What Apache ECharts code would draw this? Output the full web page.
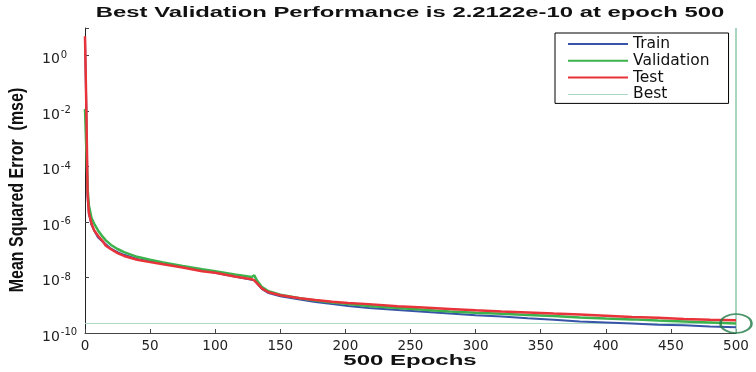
<!DOCTYPE html>
<html>
<head>
<meta charset="utf-8">
<script src="https://cdn.jsdelivr.net/npm/echarts@6/dist/echarts.min.js"></script>
<style>html,body{margin:0;padding:0;background:#fff}#c{width:756px;height:372px}</style>
</head>
<body>
<div id="c"></div>
<script>
const epochs = [0,1,2,3,5,7,10,13,16,20,25,30,40,50,60,75,90,100,115,128,130,132,136,141,150,165,177,190,202,218,240,260,280,300,320,340,360,380,400,420,440,460,480,500];
const trainMSE = [4.0,1.4e-2,7.9e-6,2.0e-6,7.9e-7,5.0e-7,2.8e-7,2.1e-7,1.6e-7,1.1e-7,8.3e-8,6.6e-8,4.7e-8,3.8e-8,3.2e-8,2.4e-8,1.8e-8,1.5e-8,1.1e-8,8.3e-9,7.9e-9,6.3e-9,3.8e-9,2.75e-9,2.1e-9,1.6e-9,1.3e-9,1.1e-9,9.5e-10,7.9e-10,6.8e-10,5.8e-10,5.0e-10,4.4e-10,3.9e-10,3.4e-10,3.0e-10,2.6e-10,2.4e-10,2.2e-10,2.0e-10,1.9e-10,1.7e-10,1.6e-10];
const validationMSE = [1.2e-2,1.1e-2,1.6e-5,4.0e-6,1.4e-6,8.9e-7,5.0e-7,3.2e-7,2.2e-7,1.5e-7,1.07e-7,8.3e-8,5.6e-8,4.4e-8,3.5e-8,2.6e-8,2.0e-8,1.7e-8,1.3e-8,1.05e-8,1.2e-8,7.9e-9,4.5e-9,3.2e-9,2.4e-9,1.8e-9,1.5e-9,1.26e-9,1.1e-9,9.5e-10,7.9e-10,6.9e-10,6.0e-10,5.4e-10,4.9e-10,4.5e-10,4.1e-10,3.6e-10,3.3e-10,3.1e-10,2.8e-10,2.6e-10,2.4e-10,2.2122e-10];
const testMSE = [5.0,1.6e-2,1.0e-5,2.1e-6,8.9e-7,5.1e-7,3.2e-7,2.2e-7,1.4e-7,1.05e-7,7.6e-8,6.0e-8,4.4e-8,3.6e-8,3.0e-8,2.3e-8,1.7e-8,1.5e-8,1.1e-8,8.7e-9,7.9e-9,6.3e-9,4.0e-9,2.95e-9,2.3e-9,1.8e-9,1.55e-9,1.35e-9,1.2e-9,1.1e-9,9.3e-10,8.3e-10,7.4e-10,6.6e-10,6.0e-10,5.5e-10,5.0e-10,4.6e-10,4.2e-10,3.8e-10,3.55e-10,3.2e-10,3.0e-10,2.9e-10];
const bestValue = 2.2122e-10;
const bestEpoch = 500;
const xTicks = [0,50,100,150,200,250,300,350,400,450,500];
const yTickExponents = [0,-2,-4,-6,-8,-10];
const seriesNames = ['Train','Validation','Test','Best'];
const titleText = 'Best Validation Performance is 2.2122e-10 at epoch 500';
const xName = '500 Epochs';
const yName = 'Mean Squared Error  (mse)';

const pairs = arr => epochs.map((e,i)=>[e, arr[i]]);
const chart = echarts.init(document.getElementById('c'), null, {renderer:'canvas'});
const C = {train:'#3854a8', val:'#3bb24c', test:'#e8333a', best:'#a9d9c2'};
const thick = 'path://M0,0H60V2H0Z';
const thin = 'path://M0,0H60V1H0Z';
const icons = [thick, thick, thick, thin];
chart.setOption({
  animation:false,
  backgroundColor:'#ffffff',
  graphic:[
    {type:'text',x:410,y:12.5,scaleX:1.59,style:{text:titleText,textAlign:'center',textVerticalAlign:'middle',
      fontFamily:'Liberation Sans',fontWeight:'bold',fontSize:15,fill:'#111'}},
    {type:'text',x:410,y:361,scaleX:1.6,style:{text:xName,textAlign:'center',textVerticalAlign:'middle',
      fontFamily:'Liberation Sans',fontWeight:'bold',fontSize:15,fill:'#111'}},
    {type:'text',x:17,y:190,rotation:Math.PI/2,scaleY:1.3,style:{text:yName,textAlign:'center',textVerticalAlign:'middle',
      fontFamily:'Liberation Sans',fontWeight:'bold',fontSize:16,fill:'#111'}}
  ],
  grid:{left:85,right:20,top:28,bottom:39,containLabel:false},
  legend:{orient:'vertical',left:555,top:33,itemWidth:60,itemHeight:14,itemGap:0.8,
    padding:[3,19,1,13],borderColor:'#000',borderWidth:1,backgroundColor:'#fff',
    textStyle:{fontFamily:'DejaVu Sans',fontSize:15.5,lineHeight:15,color:'#111'},
    data:seriesNames.map((n,i)=>({name:n,icon:icons[i]}))},
  xAxis:{type:'value',min:0,max:500,interval:50,
    axisLine:{lineStyle:{color:'#444',width:1}},
    axisTick:{inside:true,length:4,lineStyle:{color:'#444'}},
    axisLabel:{margin:6,fontFamily:'DejaVu Sans',fontSize:13.5,color:'#222',
      formatter:v=> xTicks.indexOf(v)>=0 ? String(v) : ''},
    splitLine:{show:false}},
  yAxis:{type:'log',logBase:10,min:1e-10,max:10,interval:2,
    axisLine:{show:true,lineStyle:{color:'#222',width:1}},
    axisTick:{inside:true,length:4,lineStyle:{color:'#444'}},
    axisLabel:{margin:43,align:'left',padding:[8,0,0,0],fontFamily:'DejaVu Sans',fontSize:14,color:'#222',
      formatter:v=>{const e=Math.round(Math.log10(v)); return yTickExponents.indexOf(e)>=0 ? '10{s|'+e+'}' : '';},
      rich:{s:{fontSize:10,verticalAlign:'bottom',padding:[0,0,9,1],fontFamily:'DejaVu Sans',color:'#222'}}},
    splitLine:{show:false}},
  series:[
    {name:'Train',type:'line',data:pairs(trainMSE),showSymbol:false,symbol:'none',
      lineStyle:{color:C.train,width:2},itemStyle:{color:C.train},z:2},
    {name:'Validation',type:'line',data:pairs(validationMSE),showSymbol:false,symbol:'none',
      lineStyle:{color:C.val,width:2.5},itemStyle:{color:C.val},z:3},
    {name:'Test',type:'line',data:pairs(testMSE),showSymbol:false,symbol:'none',
      lineStyle:{color:C.test,width:2.5},itemStyle:{color:C.test},z:4},
    {name:'Best',type:'line',data:[[0,bestValue],[bestEpoch,bestValue]],showSymbol:false,symbol:'none',
      lineStyle:{color:C.best,width:1},itemStyle:{color:C.best},z:1},
    {name:'BestV',type:'line',data:[[bestEpoch,1e-10],[bestEpoch,10]],showSymbol:false,symbol:'none',
      lineStyle:{color:'#8fc6ab',width:1.5},z:1,silent:true},
    {name:'BestC',type:'scatter',data:[[bestEpoch,bestValue]],symbol:'circle',symbolSize:[31,19],
      itemStyle:{color:'rgba(0,0,0,0)',borderColor:'#1f7a45',borderWidth:2},z:6,silent:true}
  ]
});
</script>
</body>
</html>
